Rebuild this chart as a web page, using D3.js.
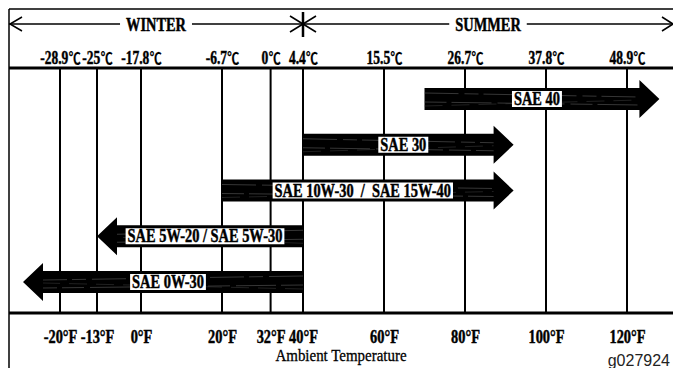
<!DOCTYPE html>
<html>
<head>
<meta charset="utf-8">
<script src="https://cdn.jsdelivr.net/npm/d3@7"></script>
<style>
  html, body { margin: 0; padding: 0; background: #fff; }
  svg { display: block; }
  .lbl { font-family: "Liberation Serif", "Times New Roman", serif; font-weight: bold; fill: #000;
         stroke: #000; stroke-width: 0.45px; }
  .deg { font-family: "Noto Sans CJK JP", "Noto Sans CJK SC", sans-serif; font-weight: bold; stroke-width: 0.2px; }
</style>
</head>
<body>
<svg id="chart" width="673" height="368"></svg>
<script>
// Ambient temperature ticks (°F) and their Celsius equivalents
const tickF = [-20, -13, 0, 20, 32, 40, 60, 80, 100, 120];
const tickC = ["-28.9℃", "-25℃", "-17.8℃", "-6.7℃", "0℃", "4.4℃", "15.5℃", "26.7℃", "37.8℃", "48.9℃"];

// Oil grades and the temperature span (°F) each arrow covers: tail -> tip
const grades = ["SAE 40", "SAE 30", "SAE 10W-30  /  SAE 15W-40", "SAE 5W-20 / SAE 5W-30", "SAE 0W-30"];
const fromF  = [70, 40, 20, 40, 40];
const toF    = [128, 92, 92, -13, -27];

// Season split
const seasons = ["WINTER", "SUMMER"];
const seasonSplitF = 40;

const W = 673, H = 368;
const frameL = 9, frameT = 9, frameR = 673;
const axisTop = 68, axisBottom = 313;
const sx = 0.8;   // horizontal condensing of the bold labels
const sxC = 0.75; // Celsius row is a little tighter

const svg = d3.select("#chart");

// Temperature scale (piecewise, as the printed scale widens around -13°F)
const x = d3.scaleLinear()
  .domain([-20, -13, 0, 120])
  .range([60, 97, 141, 627]);

const y = d3.scalePoint()
  .domain(grades)
  .range([99, 282]);

// Frame
svg.append("line").attr("x1", frameL).attr("x2", frameR).attr("y1", frameT).attr("y2", frameT)
  .attr("stroke", "#000").attr("stroke-width", 1.5);
svg.append("line").attr("x1", frameL).attr("x2", frameL).attr("y1", frameT).attr("y2", H)
  .attr("stroke", "#000").attr("stroke-width", 1.5);

// Season arrow line
const seasonY = 24;
svg.append("line").attr("x1", frameL).attr("x2", frameR).attr("y1", seasonY).attr("y2", seasonY)
  .attr("stroke", "#000").attr("stroke-width", 1.5);
svg.append("polyline").attr("points", `22,${seasonY - 7} 10,${seasonY} 22,${seasonY + 7}`)
  .attr("fill", "none").attr("stroke", "#000").attr("stroke-width", 1.5);
svg.append("polyline").attr("points", `${frameR - 11},${seasonY - 7} ${frameR},${seasonY} ${frameR - 11},${seasonY + 7}`)
  .attr("fill", "none").attr("stroke", "#000").attr("stroke-width", 1.5);

// Star marking the winter/summer split
const sxp = x(seasonSplitF);
svg.append("line").attr("x1", sxp).attr("x2", sxp).attr("y1", 12).attr("y2", 37)
  .attr("stroke", "#000").attr("stroke-width", 2.5);
svg.append("line").attr("x1", sxp - 13).attr("x2", sxp + 13).attr("y1", seasonY - 8).attr("y2", seasonY + 8)
  .attr("stroke", "#000").attr("stroke-width", 1.6);
svg.append("line").attr("x1", sxp - 13).attr("x2", sxp + 13).attr("y1", seasonY + 8).attr("y2", seasonY - 8)
  .attr("stroke", "#000").attr("stroke-width", 1.6);

// Season titles, centred in their half, with a white gap in the line
const seasonCentres = [(frameL + sxp) / 2, (sxp + frameR) / 2];
seasons.forEach((s, i) => {
  const g = svg.append("g").attr("transform", `translate(${seasonCentres[i]},${seasonY + 7})`);
  const bg = g.append("rect").attr("fill", "#fff");
  const t = g.append("text").attr("class", "lbl").attr("font-size", 18)
    .attr("text-anchor", "middle").attr("transform", `scale(${sx},1)`).text(s);
  const w = t.node().getComputedTextLength() * sx;
  bg.attr("x", -w / 2 - 6).attr("width", w + 12).attr("y", -12).attr("height", 10);
});

// Gridlines
svg.append("g").selectAll("line").data(tickF).join("line")
  .attr("x1", d => x(d)).attr("x2", d => x(d))
  .attr("y1", axisTop).attr("y2", axisBottom)
  .attr("stroke", "#000").attr("stroke-width", 2);

// Thick axis rules
[axisTop, axisBottom].forEach(yy => {
  svg.append("line").attr("x1", frameL).attr("x2", frameR).attr("y1", yy).attr("y2", yy)
    .attr("stroke", "#000").attr("stroke-width", 3);
});

// Celsius axis (top); the ℃ sign is set from a face that has a compact glyph
const axC = svg.append("g").attr("transform", `translate(0,${axisTop - 4})`)
  .call(d3.axisTop(x).tickValues(tickF).tickSize(0).tickPadding(0)
    .tickFormat((d, i) => tickC[i]));
axC.select(".domain").remove();
axC.selectAll("text").each(function (d, i) {
  const t = d3.select(this);
  const label = tickC[i];
  t.text(null).attr("class", "lbl").attr("font-size", 18).attr("dy", 0)
    .attr("transform", `scale(${sxC},1)`);
  t.append("tspan").text(label.replace("℃", ""));
  t.append("tspan").attr("class", "deg").attr("font-size", 16).attr("dx", 0.5).text("℃");
});

// Fahrenheit axis (bottom)
const axF = svg.append("g").attr("transform", `translate(0,${axisBottom})`)
  .call(d3.axisBottom(x).tickValues(tickF).tickSize(0).tickPadding(0)
    .tickFormat(d => d + "°F"));
axF.select(".domain").remove();
axF.selectAll("text").attr("class", "lbl").attr("font-size", 18).attr("dy", 0).attr("y", 30)
  .attr("transform", `scale(${sx},1)`);

// Grade arrows
const bodyH = 11, headH = 19, headL = 20;
const arrows = svg.append("g");
grades.forEach((g, i) => {
  const x0 = x(fromF[i]), x1 = x(toF[i]);
  const dir = x1 > x0 ? 1 : -1;
  const base = x1 - dir * headL;
  const cy = y(g);
  const grp = arrows.append("g").attr("transform", `translate(0,${cy})`);
  grp.append("path")
    .attr("d", `M${x0},${-bodyH} L${base},${-bodyH} L${base},${-headH} L${x1},0 L${base},${headH} L${base},${bodyH} L${x0},${bodyH} Z`)
    .attr("fill", "#000");
  // faint streaks along the arrow body
  grp.append("line").attr("x1", x0).attr("y1", -6).attr("x2", base).attr("y2", -2)
    .attr("stroke", "#5a5a5a").attr("stroke-width", 0.6).attr("stroke-dasharray", "34 6 14 5");
  grp.append("line").attr("x1", x0).attr("y1", 3).attr("x2", base).attr("y2", 6)
    .attr("stroke", "#5a5a5a").attr("stroke-width", 0.6).attr("stroke-dasharray", "22 5 40 6");
  grp.append("line").attr("x1", x0).attr("y1", 7).attr("x2", base).attr("y2", 1)
    .attr("stroke", "#404040").attr("stroke-width", 0.5).attr("stroke-dasharray", "18 9");

  // grade label in a white box
  const cx = (x0 + base) / 4 + (x0 + x1) / 4;
  const lg = grp.append("g").attr("transform", `translate(${cx},0)`);
  const bg = lg.append("rect").attr("fill", "#fff");
  const t = lg.append("text").attr("class", "lbl").attr("font-size", 18)
    .attr("text-anchor", "middle").attr("y", 6)
    .attr("transform", `scale(${sx},1)`)
    .style("white-space", "pre").text(g);
  const w = t.node().getComputedTextLength() * sx;
  bg.attr("x", -w / 2 - 2).attr("width", w + 4).attr("y", -8).attr("height", 16);
});

// Axis title
svg.append("text").attr("transform", `translate(341,361) scale(0.88,1)`)
  .attr("text-anchor", "middle")
  .attr("font-family", "'Liberation Serif', 'Times New Roman', serif")
  .attr("font-size", 17).attr("fill", "#000").attr("stroke", "#000").attr("stroke-width", 0.3)
  .text("Ambient Temperature");

// Figure number
svg.append("text").attr("x", 670).attr("y", 366).attr("text-anchor", "end")
  .attr("font-family", "'Liberation Sans', Arial, sans-serif")
  .attr("font-size", 16).attr("fill", "#222").text("g027924");
</script>
</body>
</html>
